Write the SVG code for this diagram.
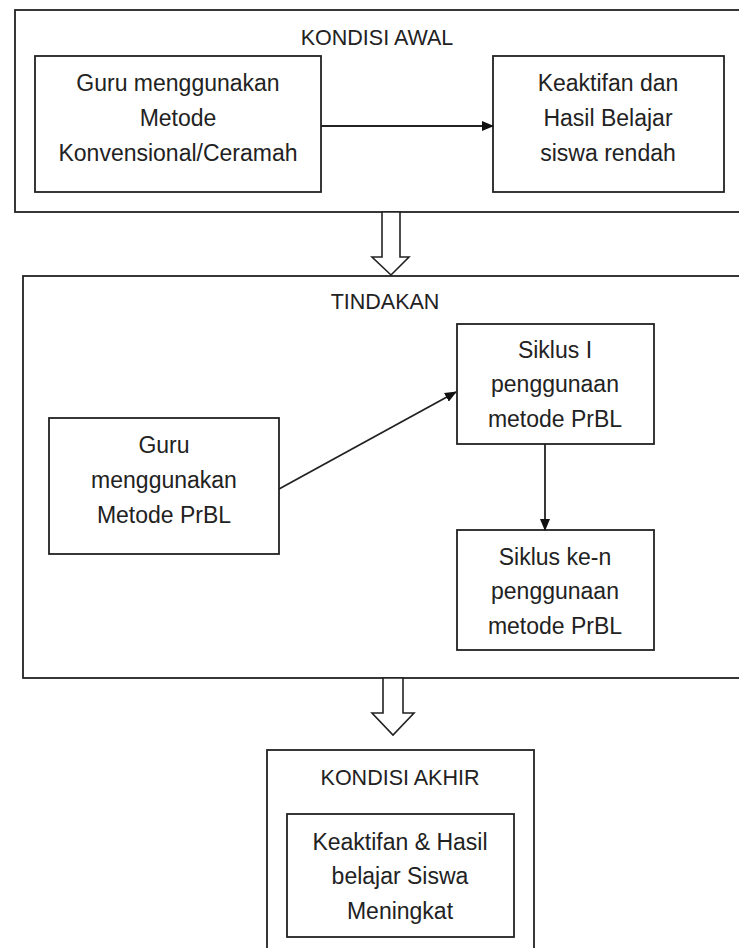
<svg xmlns="http://www.w3.org/2000/svg" width="739" height="948" viewBox="0 0 739 948">
<defs>
<style>
.box{fill:#fff;stroke:#222;stroke-width:1.8}
.t{font-family:"Liberation Sans",Arial,sans-serif;font-size:23px;fill:#222;text-anchor:middle}
.h{font-family:"Liberation Sans",Arial,sans-serif;font-size:21.5px;fill:#222;text-anchor:middle}
.ln{stroke:#222;stroke-width:1.8;fill:none}
.hollow{fill:#fff;stroke:#222;stroke-width:1.6}
</style>
<marker id="ah" markerWidth="12" markerHeight="10" refX="11" refY="5" orient="auto" markerUnits="userSpaceOnUse">
<path d="M0,0 L12,5 L0,10 Z" fill="#111"/>
</marker>
</defs>
<rect width="739" height="948" fill="#fff"/>
<g id="kondisi-awal">
<rect class="box" x="15" y="10" width="740" height="202"/>
<text class="h" x="377" y="45">KONDISI AWAL</text>
</g>
<g id="guru-konvensional">
<rect class="box" x="35" y="56" width="286" height="136"/>
<text class="t" x="178" y="91">Guru menggunakan</text>
<text class="t" x="178" y="126">Metode</text>
<text class="t" x="178" y="161">Konvensional/Ceramah</text>
</g>
<g id="hasil-rendah">
<rect class="box" x="493" y="56" width="231" height="136"/>
<text class="t" x="608" y="91">Keaktifan dan</text>
<text class="t" x="608" y="126">Hasil Belajar</text>
<text class="t" x="608" y="161">siswa rendah</text>
</g>
<g id="tindakan">
<rect class="box" x="23" y="276" width="730" height="402"/>
<text class="h" x="385" y="309">TINDAKAN</text>
</g>
<g id="guru-prbl">
<rect class="box" x="49" y="418" width="230" height="136"/>
<text class="t" x="164" y="453">Guru</text>
<text class="t" x="164" y="488">menggunakan</text>
<text class="t" x="164" y="523">Metode PrBL</text>
</g>
<g id="siklus-1">
<rect class="box" x="457" y="324" width="197" height="120"/>
<text class="t" x="555" y="358">Siklus I</text>
<text class="t" x="555" y="392">penggunaan</text>
<text class="t" x="555" y="427">metode PrBL</text>
</g>
<g id="siklus-n">
<rect class="box" x="457" y="530" width="197" height="120"/>
<text class="t" x="555" y="565">Siklus ke-n</text>
<text class="t" x="555" y="599">penggunaan</text>
<text class="t" x="555" y="634">metode PrBL</text>
</g>
<g id="kondisi-akhir">
<rect class="box" x="267" y="750" width="267" height="210"/>
<text class="h" x="400" y="785">KONDISI AKHIR</text>
</g>
<g id="hasil-meningkat">
<rect class="box" x="287" y="814" width="227" height="123"/>
<text class="t" x="400" y="850">Keaktifan &amp; Hasil</text>
<text class="t" x="400" y="884">belajar Siswa</text>
<text class="t" x="400" y="919">Meningkat</text>
</g>
<g id="connectors">
<line class="ln" x1="321" y1="126" x2="493" y2="126" marker-end="url(#ah)"/>
<line class="ln" x1="279" y1="489" x2="456" y2="392" marker-end="url(#ah)"/>
<line class="ln" x1="545" y1="444" x2="545" y2="530" marker-end="url(#ah)"/>
<path class="hollow" d="M382,212 L400,212 L400,257 L409,257 L391,275 L372,257 L382,257 Z"/>
<path class="hollow" d="M383,678 L403,678 L403,713 L414,713 L393,735 L372,713 L383,713 Z"/>
</g>
</svg>
